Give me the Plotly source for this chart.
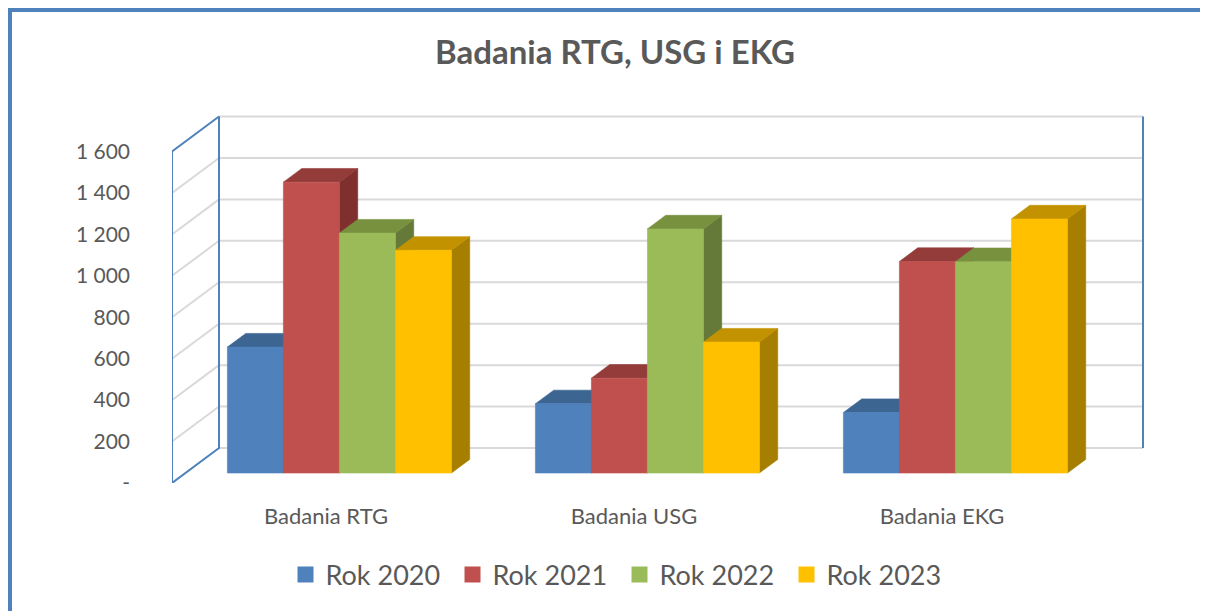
import plotly.graph_objects as go

# ---------------- data ----------------
categories = ["Badania RTG", "Badania USG", "Badania EKG"]
series_names = ["Rok 2020", "Rok 2021", "Rok 2022", "Rok 2023"]
rok_2020 = [608, 334, 292]
rok_2021 = [1404, 458, 1021]
rok_2022 = [1158, 1178, 1020]
rok_2023 = [1075, 632, 1226]
series_values = [rok_2020, rok_2021, rok_2022, rok_2023]
y_tick_values = [0, 200, 400, 600, 800, 1000, 1200, 1400, 1600]
y_tick_labels = ["-", "200", "400", "600", "800", "1 000", "1 200", "1 400", "1 600"]
title_text = "Badania RTG, USG i EKG"

# ---------------- styles ----------------
FRONT = ["#4F81BD", "#C0504D", "#9BBB59", "#FFC000"]
TOP = ["#3D6592", "#943C3A", "#77913F", "#C29200"]
SIDE = ["#385D8A", "#7F2F2D", "#657A38", "#A67E00"]
GRID = "#D9D9D9"
WALL = "#4F81BD"
TEXT = "#595959"
FONT = "Lato"

OFF = 8  # page body margin
W, H = 1200, 603
PLOT_LEFT, PLOT_TOP = 172, 100          # screen pixel positions
PX_PER_CAT = 308.0
PX_PER_VAL = 331.5 / 1600.0
plot_w, plot_h = 988, 383
ML, MT = PLOT_LEFT - OFF, PLOT_TOP - OFF
MR = W - ML - plot_w
MB = H - MT - plot_h
x_range = [-0.5, -0.5 + plot_w / PX_PER_CAT]
y_range = [0, plot_h / PX_PER_VAL]

# oblique depth vector (pixels) converted to data units
DEPTH_PX = (47.0, 35.0)
DX = DEPTH_PX[0] / PX_PER_CAT
DY = DEPTH_PX[1] / PX_PER_VAL
F0, F1 = 0.285, 0.675          # bar depth span (fraction of floor depth)
GAP = 1.5
BW = 1.0 / (len(series_names) + GAP)
x0, x1 = -0.5, len(categories) - 0.5
vmax = y_tick_values[-1]

fig = go.Figure()


def add_line(xs, ys, color, width):
    fig.add_trace(go.Scatter(x=xs, y=ys, mode="lines", line=dict(color=color, width=width),
                             hoverinfo="skip", showlegend=False))


# back wall gridlines
for v in y_tick_values:
    add_line([x0 + DX, x1 + DX], [v + DY, v + DY], GRID, 2)
# side wall gridlines
for v in y_tick_values[1:-1]:
    add_line([x0, x0 + DX], [v, v + DY], GRID, 2)
# side wall outline and back wall right edge
add_line([x0, x0, x0 + DX, x0 + DX, x0], [0, vmax, vmax + DY, DY, 0], WALL, 2)
add_line([x1 + DX, x1 + DX], [DY, vmax + DY], WALL, 2)

a0, b0 = F0 * DX, F0 * DY
a1, b1 = F1 * DX, F1 * DY


def poly_trace(xs, ys, color):
    fig.add_trace(go.Scatter(x=xs, y=ys, mode="lines", fill="toself", fillcolor=color,
                             line=dict(color=color, width=0.6), hoverinfo="skip",
                             showlegend=False))


for k, vals in enumerate(series_values):
    fx, fy, tx, ty, sx, sy = [], [], [], [], [], []
    for c, v in enumerate(vals):
        xl = c - len(series_names) / 2 * BW + k * BW
        xr = xl + BW
        fx += [xl + a0, xr + a0, xr + a0, xl + a0, xl + a0, None]
        fy += [b0, b0, b0 + v, b0 + v, b0, None]
        tx += [xl + a0, xr + a0, xr + a1, xl + a1, xl + a0, None]
        ty += [b0 + v, b0 + v, b1 + v, b1 + v, b0 + v, None]
        sx += [xr + a0, xr + a1, xr + a1, xr + a0, xr + a0, None]
        sy += [b0, b1, b1 + v, b0 + v, b0, None]
    poly_trace(sx, sy, SIDE[k])
    poly_trace(tx, ty, TOP[k])
    poly_trace(fx, fy, FRONT[k])

# legend entries
for k, name in enumerate(series_names):
    fig.add_trace(go.Scatter(x=[None], y=[None], mode="markers", name=name,
                             marker=dict(symbol="square", size=16, color=FRONT[k]),
                             hoverinfo="skip"))


def px_x(p):
    return (p - PLOT_LEFT) / plot_w


def px_y(p):
    return (PLOT_TOP + plot_h - p) / plot_h


shapes = [
    dict(type="line", xref="paper", yref="paper", x0=px_x(8), x1=px_x(1212), y0=px_y(10), y1=px_y(10),
         line=dict(color="#4F81BD", width=4)),
    dict(type="line", xref="paper", yref="paper", x0=px_x(10), x1=px_x(10), y0=px_y(8), y1=px_y(615),
         line=dict(color="#4F81BD", width=4)),
]

fig.update_layout(
    width=W, height=H, autosize=False,
    margin=dict(l=ML, r=MR, t=MT, b=MB),
    paper_bgcolor="white", plot_bgcolor="rgba(0,0,0,0)",
    font=dict(family=FONT, color=TEXT),
    title=dict(text="<b>" + title_text + "</b>", x=(615 - OFF) / W, xanchor="center",
               y=1 - (52 - OFF) / H, yanchor="middle", font=dict(size=33, color=TEXT, family=FONT)),
    xaxis=dict(range=x_range, showgrid=False, zeroline=False, showline=False,
               tickmode="array", tickvals=list(range(len(categories))), ticktext=categories,
               ticks="", ticklabelstandoff=18, tickfont=dict(size=22, color=TEXT, family=FONT),
               fixedrange=True),
    yaxis=dict(range=y_range, showgrid=False, zeroline=False, showline=False,
               tickmode="array", tickvals=y_tick_values, ticktext=y_tick_labels,
               ticks="", ticklabelstandoff=41, tickfont=dict(size=21, color=TEXT, family=FONT),
               fixedrange=True),
    legend=dict(orientation="h", x=px_x(619.5), xanchor="center", y=px_y(575), yanchor="middle",
                font=dict(size=27, color=TEXT, family=FONT), bgcolor="rgba(0,0,0,0)",
                itemsizing="trace", traceorder="normal", entrywidth=122, entrywidthmode="pixels"),
    shapes=shapes,
    showlegend=True,
)

fig.write_html("out.html")
